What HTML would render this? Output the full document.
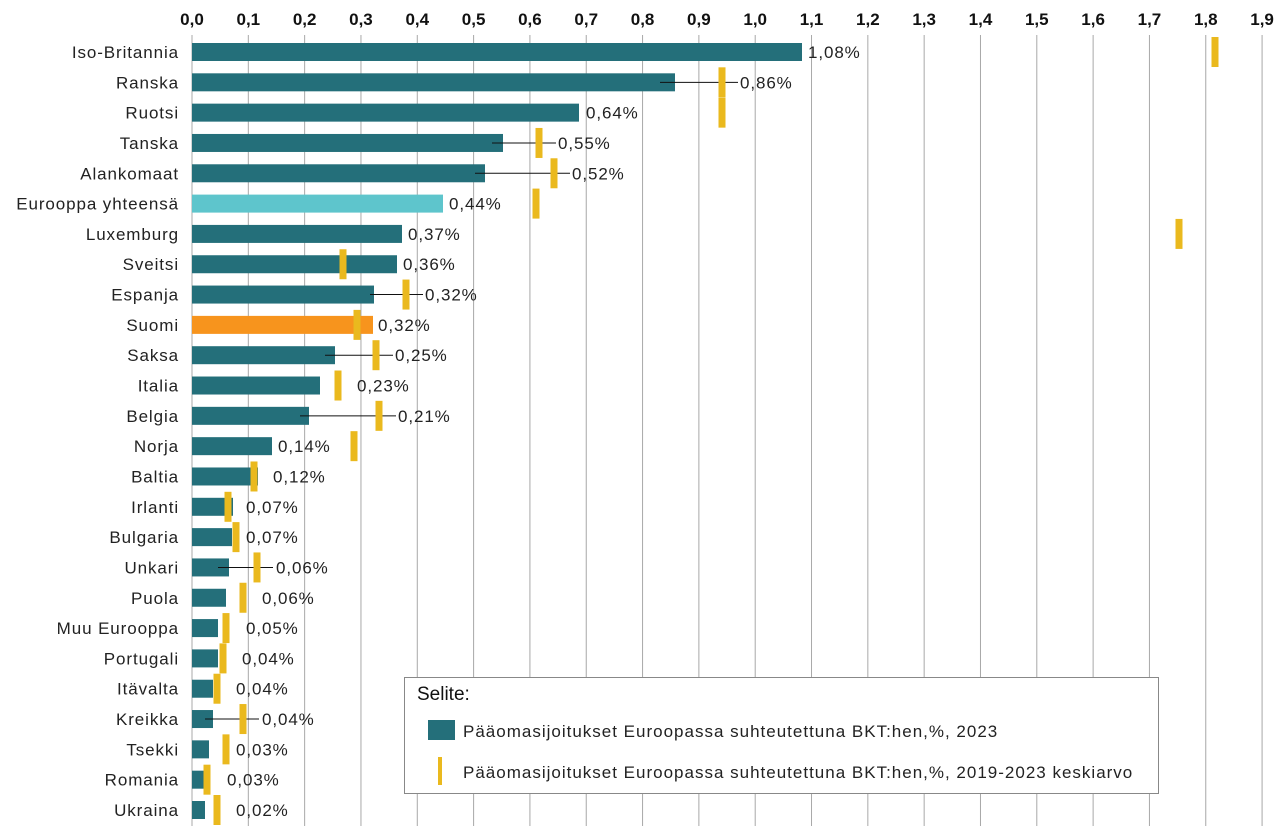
<!DOCTYPE html>
<html><head><meta charset="utf-8"><style>body{margin:0;background:#fff}svg{display:block;font-family:"Liberation Sans",Arial,sans-serif}</style></head><body>
<svg width="1284" height="835" xmlns="http://www.w3.org/2000/svg">
<g id="grid" stroke="#a8a8a8" stroke-width="1"></g>
<g id="ticks" font-size="17" font-weight="bold" fill="#111" text-anchor="middle"></g>
<g id="rows"></g>
<rect x="404.5" y="677.5" width="754" height="116" fill="#fff" stroke="#888"/>
<text x="417" y="700" font-size="19" fill="#111">Selite:</text>
<rect x="428" y="720" width="27" height="20" fill="#246f7a"/>
<text x="463" y="737" font-size="17" letter-spacing="1" fill="#222">Pääomasijoitukset Euroopassa suhteutettuna BKT:hen,%, 2023</text>
<rect x="438" y="757" width="4" height="28" fill="#eab91e"/>
<text x="463" y="778" font-size="17" letter-spacing="1" fill="#222">Pääomasijoitukset Euroopassa suhteutettuna BKT:hen,%, 2019-2023 keskiarvo</text>
</svg>
<script>
const S=563.2,X0=192;
const g=document.getElementById('grid'),t=document.getElementById('ticks'),r=document.getElementById('rows');
const ns='http://www.w3.org/2000/svg';
function el(p,tag,a,txt){const e=document.createElementNS(ns,tag);for(const k in a)e.setAttribute(k,a[k]);if(txt)e.textContent=txt;p.appendChild(e);return e;}
for(let i=0;i<=19;i++){const x=X0+i*S/10;el(g,'line',{x1:x,x2:x,y1:35,y2:826});el(t,'text',{x:x,y:25},(i/10).toFixed(1).replace('.',','));}
const d=[["Iso-Britannia",1.08,1215,"#246f7a",802,808],["Ranska",0.86,722,"#246f7a",675,740,[660,738]],["Ruotsi",0.64,722,"#246f7a",579,586],["Tanska",0.55,539,"#246f7a",503,558,[492,556]],["Alankomaat",0.52,554,"#246f7a",485,572,[475,570]],["Eurooppa yhteensä",0.44,536,"#5ec5cc",443,449],["Luxemburg",0.37,1179,"#246f7a",402,408],["Sveitsi",0.36,343,"#246f7a",397,403],["Espanja",0.32,406,"#246f7a",374,425,[370,423]],["Suomi",0.32,357,"#f7941d",373,378],["Saksa",0.25,376,"#246f7a",335,395,[325,393]],["Italia",0.23,338,"#246f7a",320,357],["Belgia",0.21,379,"#246f7a",309,398,[300,396]],["Norja",0.14,354,"#246f7a",272,278],["Baltia",0.12,254,"#246f7a",258,273],["Irlanti",0.07,228,"#246f7a",233,246],["Bulgaria",0.07,236,"#246f7a",232,246],["Unkari",0.06,257,"#246f7a",229,276,[218,273]],["Puola",0.06,243,"#246f7a",226,262],["Muu Eurooppa",0.05,226,"#246f7a",218,246],["Portugali",0.04,223,"#246f7a",218,242],["Itävalta",0.04,217,"#246f7a",213,236],["Kreikka",0.04,243,"#246f7a",213,262,[205,259]],["Tsekki",0.03,226,"#246f7a",209,236],["Romania",0.03,207,"#246f7a",204,227],["Ukraina",0.02,217,"#246f7a",205,236]];
d.forEach((o,i)=>{const y=52+i*30.32;
el(r,'text',{x:179,y:y+6,'font-size':17,'letter-spacing':0.9,fill:'#222','text-anchor':'end'},o[0]);
el(r,'rect',{x:X0,y:y-9,width:o[4]-X0,height:18,fill:o[3]});
if(o[6])el(r,'line',{x1:o[6][0],x2:o[6][1],y1:y,y2:y,stroke:'#111','stroke-width':1});
el(r,'rect',{x:o[2]-3.5,y:y-15,width:7,height:30,fill:'#eab91e'});
el(r,'text',{x:o[5],y:y+6,'font-size':17,'letter-spacing':0.9,fill:'#222'},o[1].toFixed(2).replace('.',',')+'%');
});
</script>
</body></html>
